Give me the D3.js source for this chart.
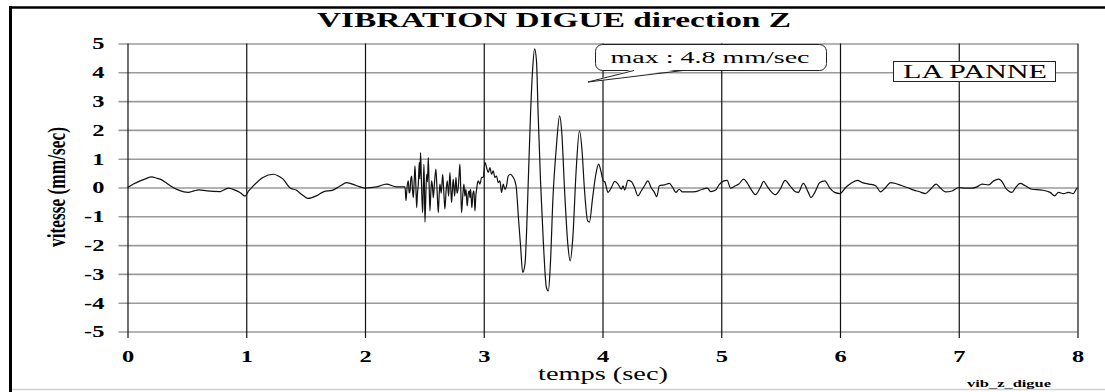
<!DOCTYPE html>
<html>
<head>
<meta charset="utf-8">
<script src="https://cdn.jsdelivr.net/npm/d3@7"></script>
<style>
  html, body { margin: 0; padding: 0; background: #fff; }
  svg { display: block; }
  text { font-family: "Liberation Serif", "Times New Roman", serif; fill: #000; }
</style>
</head>
<body>
<svg id="chart" width="1105" height="392"></svg>
<script>
// ---------- DATA ----------
const chartTitle = "VIBRATION DIGUE direction Z";
const yAxisTitle = "vitesse (mm/sec)";
const xAxisTitle = "temps (sec)";
const maxNote = "max : 4.8 mm/sec";
const siteName = "LA PANNE";
const fileTag = "vib_z_digue";

const xTicks = [0, 1, 2, 3, 4, 5, 6, 7, 8];
const yTicks = [-5, -4, -3, -2, -1, 0, 1, 2, 3, 4, 5];

// [time (s), velocity (mm/s)] read from the recording
const quietStart = [
  [0.000, 0.00], [0.050, 0.12], [0.107, 0.23], [0.150, 0.30], [0.205, 0.37],
  [0.240, 0.33], [0.275, 0.29], [0.320, 0.18], [0.360, 0.06], [0.430, -0.09],
  [0.510, -0.17], [0.560, -0.12], [0.600, -0.08], [0.670, -0.12], [0.780, -0.14],
  [0.850, -0.02], [0.905, -0.09], [0.950, -0.18], [0.990, -0.30], [1.020, -0.12],
  [1.060, 0.06], [1.140, 0.35], [1.230, 0.46], [1.270, 0.40], [1.310, 0.29],
  [1.370, -0.02], [1.420, -0.09], [1.470, -0.25], [1.520, -0.38], [1.590, -0.29],
  [1.650, -0.15], [1.730, -0.09], [1.790, 0.05], [1.845, 0.17], [1.930, 0.06],
  [2.000, -0.02], [2.100, 0.02], [2.180, 0.12], [2.265, 0.02], [2.337, 0.02]
];

const burst = [
  [2.345, -0.46], [2.355, 0.05], [2.365, 0.23], [2.372, -0.20], [2.379, -0.12],
  [2.386, 0.30], [2.393, 0.40], [2.400, -0.10], [2.407, -0.35], [2.414, 0.20],
  [2.421, 0.75], [2.428, 0.10], [2.435, -0.70], [2.442, -0.20], [2.449, 0.12],
  [2.457, 0.87], [2.462, 0.30], [2.468, 1.21], [2.476, 0.10], [2.485, -0.87],
  [2.490, -0.20], [2.496, 0.80], [2.500, 0.10], [2.505, -1.20], [2.512, -0.30],
  [2.519, 0.46], [2.526, 0.20], [2.533, 1.04], [2.540, 0.10], [2.547, -0.81],
  [2.554, -0.20], [2.561, 0.23], [2.568, 0.05], [2.575, -0.35], [2.586, 0.20],
  [2.597, 0.64], [2.607, -0.10], [2.617, -0.87], [2.624, -0.30], [2.631, 0.12],
  [2.642, -0.20], [2.654, 0.46], [2.663, -0.10], [2.673, -0.75], [2.683, -0.10],
  [2.693, 0.23], [2.704, -0.30], [2.715, 0.52], [2.722, 0.00], [2.729, -0.52],
  [2.736, -0.10], [2.743, 0.29], [2.755, -0.30], [2.766, 0.35], [2.775, -0.20],
  [2.785, 0.00], [2.792, 0.40], [2.799, 0.81], [2.806, 0.00], [2.813, -0.87],
  [2.823, -0.30], [2.833, 0.12], [2.841, -0.30], [2.850, -0.06], [2.856, -0.40],
  [2.861, -0.64], [2.870, -0.20], [2.878, -0.12], [2.884, -0.35], [2.889, -0.06],
  [2.895, -0.40], [2.900, -0.70], [2.909, -0.20], [2.917, -0.12], [2.922, -0.50],
  [2.926, -0.81], [2.933, -0.30], [2.940, -0.06], [2.947, 0.15], [2.954, 0.23],
  [2.968, 0.12], [2.982, 0.35], [2.996, 0.35], [3.010, 0.87], [3.024, 0.69],
  [3.038, 0.52], [3.052, 0.69], [3.066, 0.46], [3.080, 0.58], [3.094, 0.35],
  [3.108, 0.40], [3.122, 0.17], [3.136, 0.23], [3.150, -0.17], [3.164, 0.12],
  [3.178, -0.06], [3.192, 0.06], [3.206, 0.40], [3.226, 0.46], [3.248, 0.35],
  [3.262, 0.23]
];

const mainWaves = [
  [3.274, 0.00], [3.292, -1.04], [3.311, -2.09], [3.328, -2.95], [3.347, -2.67],
  [3.361, -1.50], [3.375, 0.23], [3.394, 2.55], [3.411, 4.06], [3.428, 4.81],
  [3.444, 4.40], [3.458, 2.55], [3.478, 0.23], [3.500, -1.74], [3.528, -3.48],
  [3.544, -3.59], [3.561, -2.67], [3.583, -0.35], [3.611, 1.39], [3.639, 2.49],
  [3.656, 1.97], [3.681, -0.12], [3.708, -1.97], [3.728, -2.55], [3.750, -1.74],
  [3.778, 0.58], [3.806, 1.97], [3.828, 1.27], [3.847, 0.00], [3.875, -1.16],
  [3.890, -1.20], [3.917, -0.35], [3.944, 0.46], [3.967, 0.81], [3.986, 0.58],
  [4.006, 0.23]
];

const quietEnd = [
  [4.019, 0.20], [4.047, -0.17], [4.075, 0.00], [4.103, 0.21], [4.131, 0.12],
  [4.159, -0.06], [4.173, 0.06], [4.187, -0.09], [4.214, 0.25], [4.242, 0.21],
  [4.270, 0.00], [4.298, -0.29], [4.326, -0.12], [4.354, 0.06], [4.382, 0.23],
  [4.409, 0.00], [4.437, -0.17], [4.457, -0.32], [4.479, 0.06], [4.521, 0.09],
  [4.563, 0.14], [4.591, 0.00], [4.618, -0.17], [4.646, -0.06], [4.674, -0.15],
  [4.730, -0.15], [4.786, -0.14], [4.841, -0.06], [4.883, -0.02], [4.911, -0.14],
  [4.953, -0.09], [4.981, 0.09], [5.022, 0.23], [5.050, 0.25], [5.078, -0.02],
  [5.120, 0.06], [5.148, 0.12], [5.189, 0.29], [5.217, 0.17], [5.259, -0.12],
  [5.287, -0.25], [5.329, 0.00], [5.357, 0.21], [5.384, 0.06], [5.426, -0.17],
  [5.454, -0.25], [5.496, -0.06], [5.538, 0.25], [5.579, 0.06], [5.621, -0.14],
  [5.649, -0.17], [5.691, 0.14], [5.733, -0.17], [5.755, -0.35], [5.788, -0.17],
  [5.830, 0.17], [5.872, 0.23], [5.914, -0.02], [5.955, -0.17], [6.000, -0.21],
  [6.048, 0.00], [6.090, 0.14], [6.146, 0.25], [6.188, 0.17], [6.244, 0.12],
  [6.300, 0.06], [6.342, -0.15], [6.384, 0.00], [6.426, 0.17], [6.468, 0.14],
  [6.510, 0.08], [6.566, 0.00], [6.622, -0.09], [6.664, -0.14], [6.720, -0.21],
  [6.762, -0.06], [6.810, 0.12], [6.846, -0.02], [6.888, -0.15], [6.944, -0.12],
  [7.000, 0.00], [7.056, -0.02], [7.112, -0.02], [7.154, 0.02], [7.196, 0.12],
  [7.252, 0.09], [7.294, 0.23], [7.336, 0.29], [7.370, 0.17], [7.392, 0.00],
  [7.420, -0.12], [7.448, -0.17], [7.476, -0.02], [7.518, 0.14], [7.560, 0.06],
  [7.616, -0.06], [7.700, -0.09], [7.770, -0.17], [7.807, -0.29], [7.840, -0.17],
  [7.882, -0.21], [7.924, -0.17], [7.966, -0.21], [7.989, -0.06], [8.000, 0.00]
];

// ---------- DRAW ----------
const svg = d3.select("#chart");
const SX = 1.44; // horizontal stretch of the original picture's lettering

const x = d3.scaleLinear().domain([0, 8]).range([127.5, 1077.5]);
const y = d3.scaleLinear().domain([-5, 5]).range([331.5, 43.5]);

// outer frame
svg.append("line").attr("x1", 9).attr("x2", 1105).attr("y1", 7.5).attr("y2", 7.5)
  .attr("stroke", "#000").attr("stroke-width", 2.5);
svg.append("line").attr("x1", 10.5).attr("x2", 10.5).attr("y1", 6).attr("y2", 392)
  .attr("stroke", "#000").attr("stroke-width", 3);
svg.append("line").attr("x1", 12).attr("x2", 1105).attr("y1", 389.5).attr("y2", 389.5)
  .attr("stroke", "#d0d0d0").attr("stroke-width", 1.5);

function stretchTexts(g) {
  g.selectAll("text").each(function () {
    const t = d3.select(this);
    const tx = +t.attr("x") || 0;
    const ty = +t.attr("y") || 0;
    t.attr("x", 0).attr("y", 0)
     .attr("transform", `translate(${tx},${ty}) scale(${SX},1)`);
  });
}

// horizontal grid + y labels
const gy = svg.append("g").attr("transform", "translate(118.5,0)")
  .call(d3.axisLeft(y).tickValues(yTicks).tickFormat(d => String(d))
    .tickSizeInner(-(1077.5 - 118.5)).tickSizeOuter(0).tickPadding(14));
gy.select(".domain").remove();
gy.selectAll(".tick line").attr("stroke", "#9a9a9a").attr("stroke-width", 1.6);
gy.selectAll("text").attr("font-size", 17).attr("font-weight", "bold")
  .attr("font-family", "'Liberation Serif', 'Times New Roman', serif");
stretchTexts(gy);

// vertical grid + x labels
const gx = svg.append("g").attr("transform", "translate(0,338)")
  .call(d3.axisBottom(x).tickValues(xTicks).tickFormat(d => String(d))
    .tickSizeInner(-(338 - 43.5)).tickSizeOuter(0).tickPadding(12));
gx.select(".domain").remove();
gx.selectAll(".tick line").attr("stroke", "#111").attr("stroke-width", 1.2);
gx.selectAll("text").attr("font-size", 17).attr("font-weight", "bold")
  .attr("font-family", "'Liberation Serif', 'Times New Roman', serif");
stretchTexts(gx);

// data line
const pts = quietStart.concat(burst, mainWaves, quietEnd);
svg.append("path").datum(pts)
  .attr("fill", "none").attr("stroke", "#111").attr("stroke-width", 1.2)
  .attr("stroke-linejoin", "round")
  .attr("d", d3.line().x(d => x(d[0])).y(d => y(d[1])).curve(d3.curveMonotoneX));

// title
svg.append("text").attr("x", 554).attr("y", 27).attr("text-anchor", "middle")
  .attr("font-size", 21).attr("font-weight", "bold")
  .attr("textLength", 474).attr("lengthAdjust", "spacingAndGlyphs")
  .text(chartTitle);

// y axis title
svg.append("text")
  .attr("transform", "translate(56,187) scale(1.44,1) rotate(-90)")
  .attr("text-anchor", "middle").attr("dy", "0.35em")
  .attr("font-size", 17).attr("font-weight", "bold")
  .attr("textLength", 120).attr("lengthAdjust", "spacingAndGlyphs")
  .text(yAxisTitle);

// x axis title
svg.append("text").attr("x", 603).attr("y", 380).attr("text-anchor", "middle")
  .attr("font-size", 18)
  .attr("textLength", 130).attr("lengthAdjust", "spacingAndGlyphs")
  .text(xAxisTitle);

// file tag
svg.append("text").attr("x", 1009).attr("y", 387).attr("text-anchor", "middle")
  .attr("font-size", 11).attr("font-weight", "bold")
  .attr("textLength", 84).attr("lengthAdjust", "spacingAndGlyphs")
  .text(fileTag);

// site name box
svg.append("rect").attr("x", 893.5).attr("y", 61.5).attr("width", 162).attr("height", 20)
  .attr("fill", "#fff").attr("stroke", "#222").attr("stroke-width", 1);
svg.append("text").attr("x", 975).attr("y", 78).attr("text-anchor", "middle")
  .attr("font-size", 18)
  .attr("textLength", 144).attr("lengthAdjust", "spacingAndGlyphs")
  .text(siteName);

// max callout
svg.append("rect").attr("x", 595.5).attr("y", 44.5).attr("width", 231).attr("height", 26)
  .attr("rx", 7).attr("ry", 7)
  .attr("fill", "#fff").attr("stroke", "#222").attr("stroke-width", 1);
svg.append("polygon").attr("points", "634,69 588,82 683,69")
  .attr("fill", "#fff").attr("stroke", "none");
svg.append("polyline").attr("points", "634,70.5 588,82 683,70.5")
  .attr("fill", "none").attr("stroke", "#222").attr("stroke-width", 1);
svg.append("text").attr("x", 710).attr("y", 63).attr("text-anchor", "middle")
  .attr("font-size", 16)
  .attr("textLength", 199).attr("lengthAdjust", "spacingAndGlyphs")
  .text(maxNote);
</script>
</body>
</html>
